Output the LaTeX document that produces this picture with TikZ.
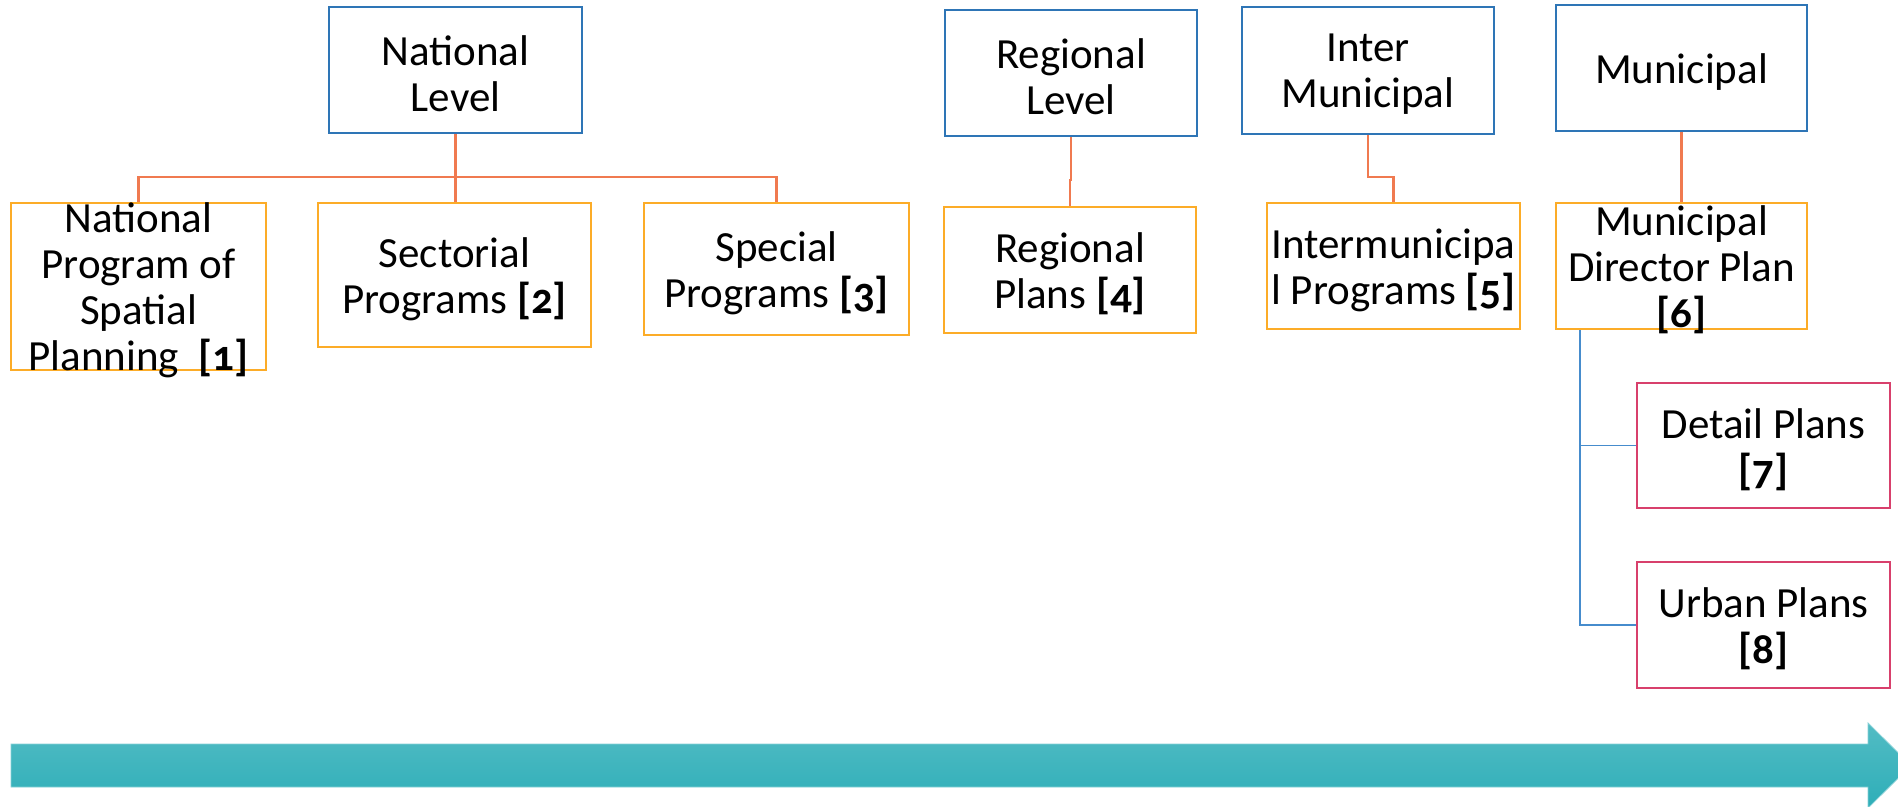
\documentclass[tikz,border=0pt]{standalone}
\usepackage{fontspec}
\setmainfont{Carlito}
\usetikzlibrary{calc}

\definecolor{lvlblue}{RGB}{46,117,182}
\definecolor{planorange}{RGB}{252,172,40}
\definecolor{linkcoral}{RGB}{240,122,80}
\definecolor{detailpink}{RGB}{216,64,108}
\definecolor{treeblue}{RGB}{70,140,205}
\definecolor{arrowtop}{RGB}{82,188,196}
\definecolor{arrowbot}{RGB}{46,174,184}

% bold reference number with old-style figures
\newcommand\refno[1]{\textbf{\addfontfeatures{Numbers=OldStyle}[#1]}}

% boxed panel given by its corners: name, style, x1, y1, x2, y2, text
\newcommand\panel[7]{%
  \node[#2, minimum width={#5-#3}, minimum height={#6-#4}] (#1) at ({(#3+#5)/2},{(#4+#6)/2}) {};
  \node[txt] (#1-t) at (#1.center) {#7};
}

\begin{document}
\begin{tikzpicture}[x=1pt,y=-1pt,
  box/.style={draw, line width=2.6pt, inner sep=0pt},
  lvl/.style={box, draw=lvlblue},
  plan/.style={box, draw=planorange},
  sub/.style={box, draw=detailpink},
  txt/.style={align=center, font=\fontsize{43}{46}\selectfont, inner sep=0pt, text=black, yshift=-4pt},
  link/.style={draw=linkcoral, line width=2.4pt},
  branch/.style={draw=treeblue, line width=1.8pt},
]
\useasboundingbox (0,0) rectangle (1898,806);
\clip (0,0) rectangle (1898,806);

% levels
\panel{nat}{lvl}{329}{7}{582}{133}{National\\Level}
\panel{reg}{lvl}{945}{10}{1197}{136}{Regional\\Level}
\panel{imun}{lvl}{1242}{7}{1494}{134}{Inter\\Municipal}
\panel{mun}{lvl}{1556}{5}{1807}{131}{Municipal}

% plans and programs
\panel{p1}{plan}{11}{203}{266}{370}{National\\Program of\\Spatial\\Planning~~\refno{1}}
\panel{p2}{plan}{318}{203}{591}{347}{Sectorial\\Programs \refno{2}}
\panel{p3}{plan}{644}{203}{909}{335}{Special\\Programs \refno{3}}
\panel{p4}{plan}{944}{207}{1196}{333}{Regional\\Plans \refno{4}}
\panel{p5}{plan}{1267}{203}{1520}{329}{Intermunicipa\\l Programs \refno{5}}
\panel{p6}{plan}{1556}{203}{1807}{329}{Municipal\\Director Plan\\\refno{6}}

% detailed municipal plans
\panel{p7}{sub}{1637}{383}{1890}{508}{Detail Plans\\\refno{7}}
\panel{p8}{sub}{1637}{562}{1890}{688}{Urban Plans\\\refno{8}}

% connectors
\coordinate (natbar) at (455,177);
\draw[link] (nat.south) -- (nat.south |- p2.north);
\draw[link] (p1.north) |- (natbar) -| (p3.north);

\coordinate (regjog) at (1071,180);
\draw[link] (reg.south) -- (regjog) -| (p4.north);

\coordinate (imunjog) at (1368,177);
\draw[link] (imun.south) -- (imunjog) -| (p5.north);

\draw[link] (mun.south) -- (p6.north);

\coordinate (trunk) at ($(p6.south west)+(25,0)$);
\draw[branch] (trunk) |- (p7.west);
\draw[branch] (trunk) |- (p8.west);

% time arrow
\shade[top color=arrowtop, bottom color=arrowbot, draw=arrowtop!70!white, line width=0.8pt]
  (11,744) -- (1868,744) -- (1868,723) -- (1911,765.5) -- (1868,808) -- (1868,787) -- (11,787) -- cycle;
\end{tikzpicture}
\end{document}
